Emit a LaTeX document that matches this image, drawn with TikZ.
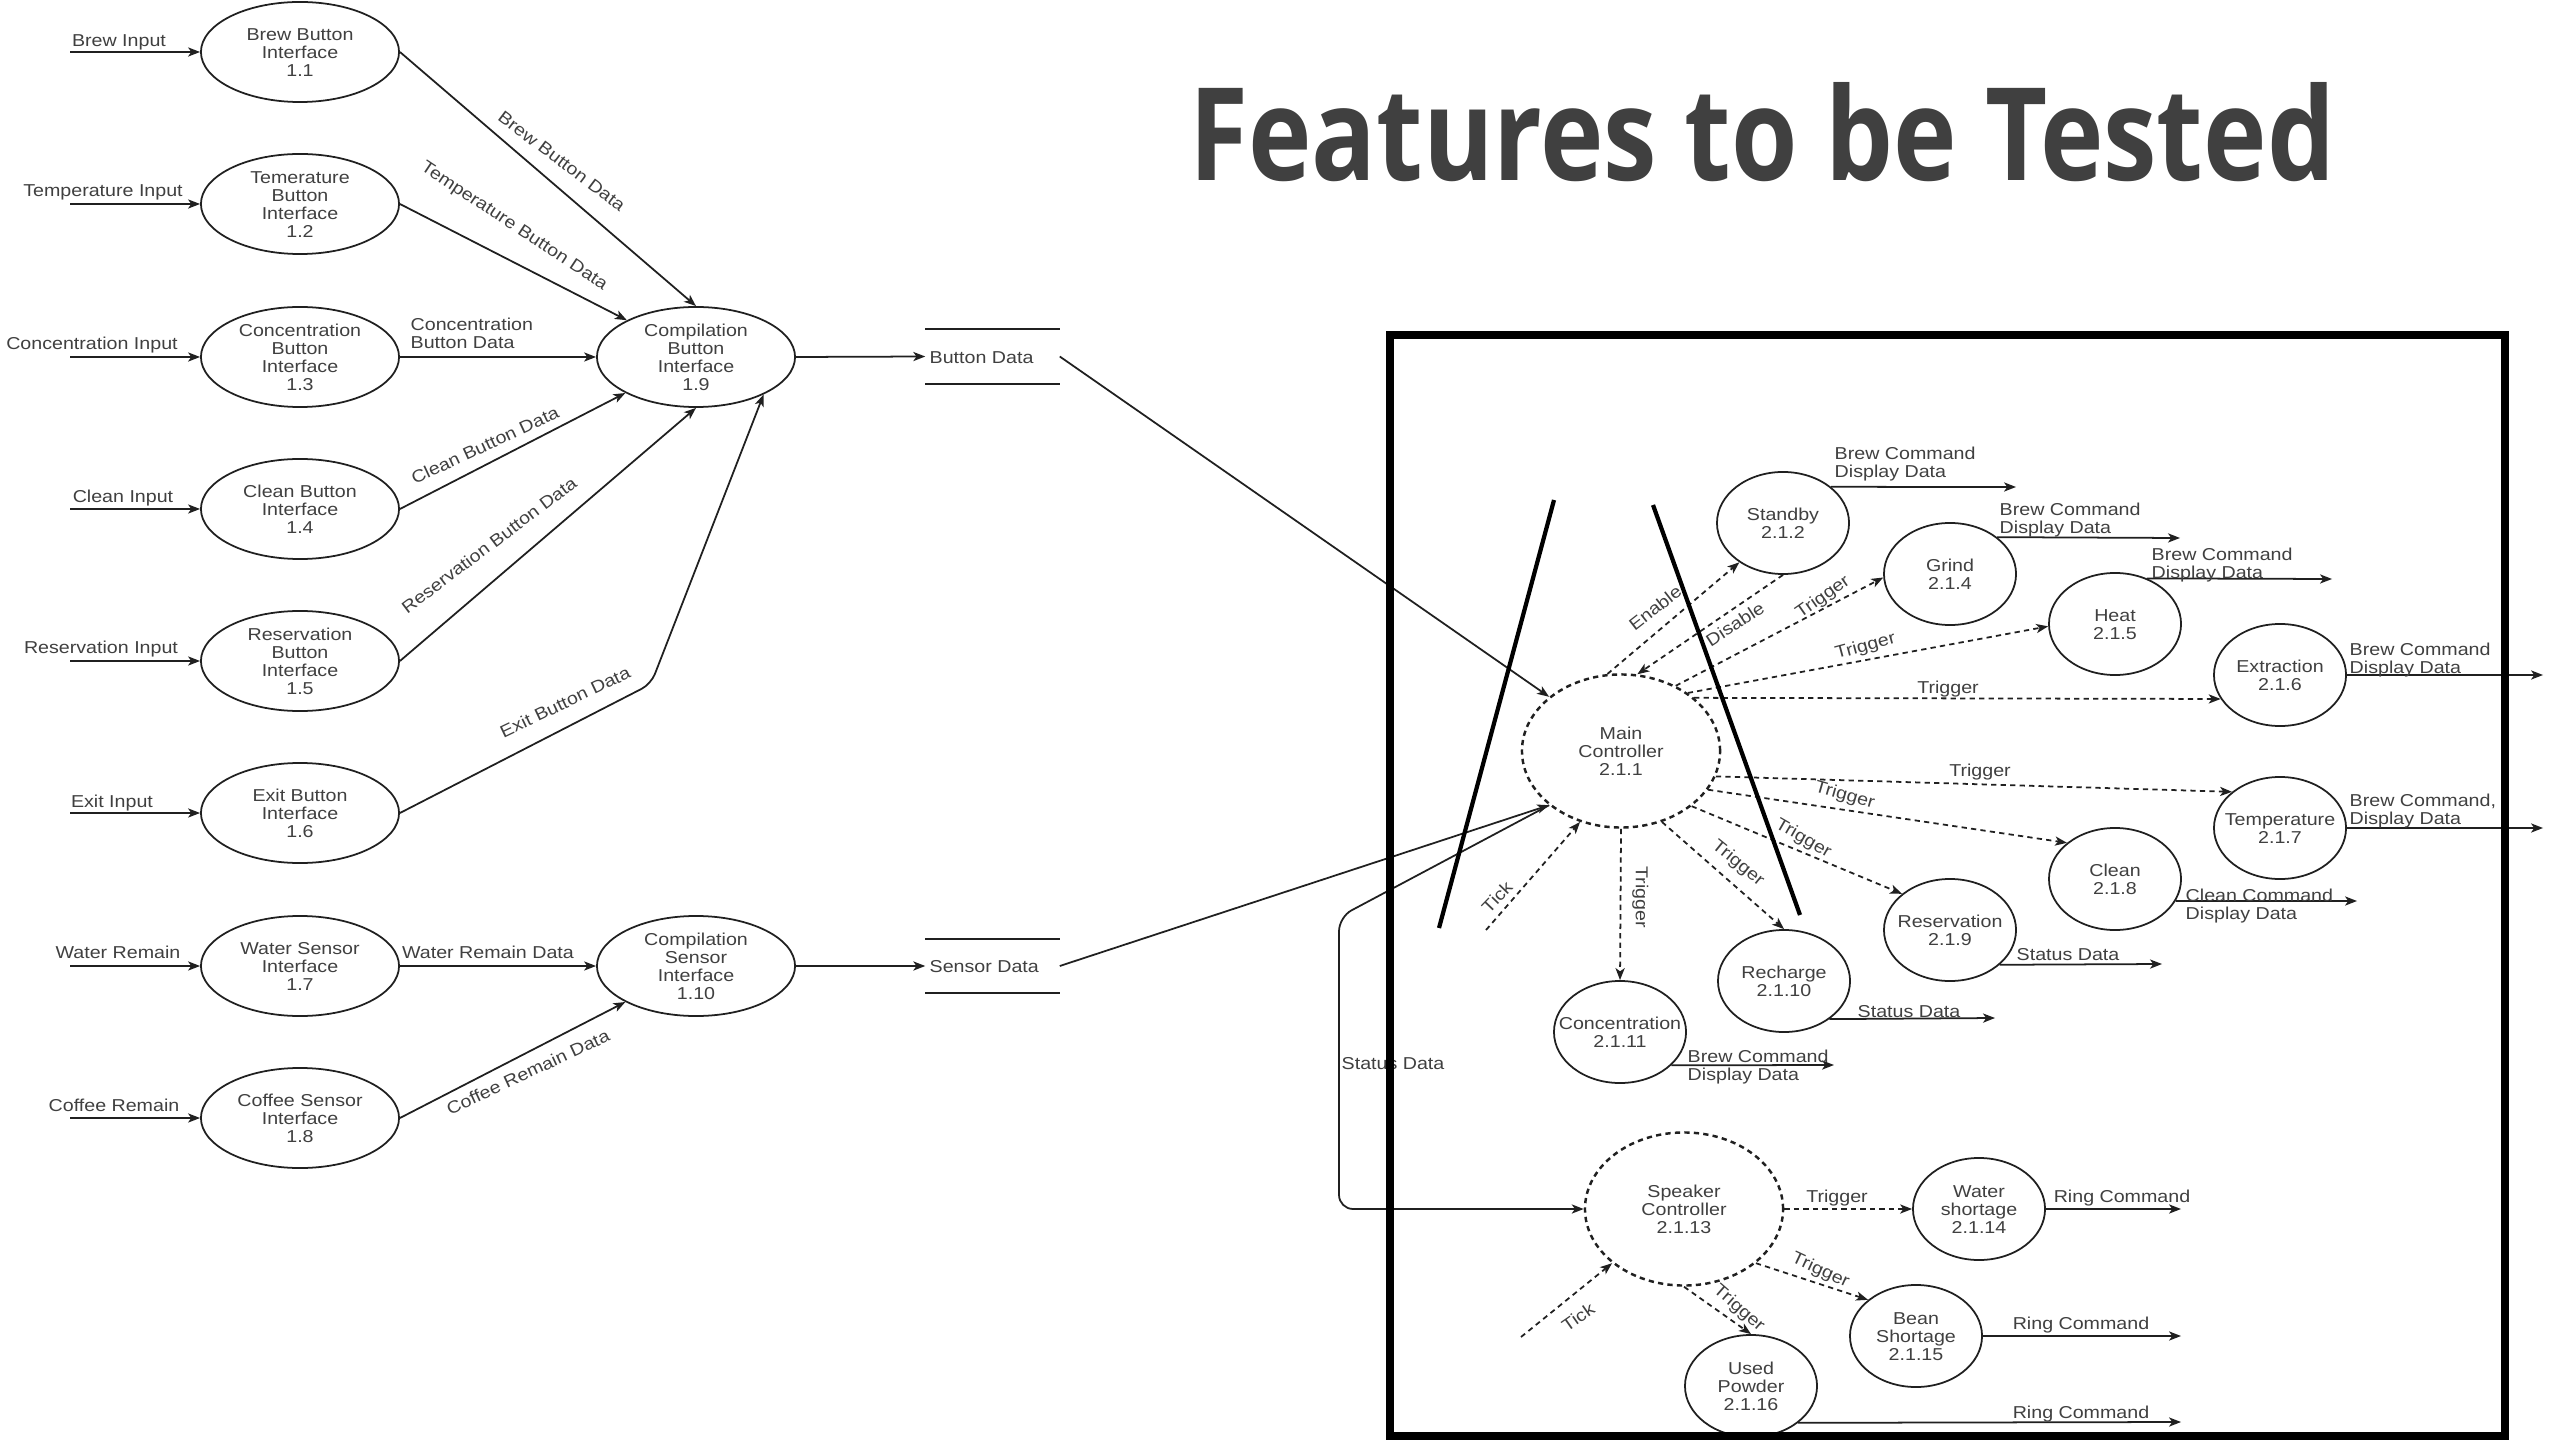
\documentclass[tikz,border=0pt]{standalone}
\usepackage{fontspec}
\usepackage{graphicx}
\setmainfont{Liberation Sans}
\newfontfamily\titlefont{Open Sans}
\usetikzlibrary{shapes.geometric,arrows.meta}
\definecolor{txt}{HTML}{404040}
\definecolor{ln}{HTML}{202020}
\newcommand\tx[1]{\scalebox{1.14}[1]{\raisebox{-0.75pt}[\height][\depth]{\begin{tabular}{@{}c@{}}#1\end{tabular}}}}
\newcommand\txl[1]{\scalebox{1.14}[1]{\raisebox{-0.75pt}[\height][\depth]{\begin{tabular}{@{}l@{}}#1\end{tabular}}}}
\tikzset{
  lbl/.style={inner sep=0pt, text=txt, font=\fontsize{4.9}{5.1}\selectfont},
  ell/.style={draw=ln, line width=0.5pt, ellipse, inner sep=0pt, minimum width=1.98cm, minimum height=1cm},
  sm/.style={draw=ln, line width=0.5pt, ellipse, inner sep=0pt, minimum width=1.32cm, minimum height=1.02cm},
  ctl/.style={draw=ln, line width=0.7pt, dash pattern=on 1.5pt off 1.2pt, ellipse, inner sep=0pt, minimum width=1.98cm, minimum height=1.53cm},
  flow/.style={draw=ln, line width=0.5pt, -{Stealth[length=3.4pt,width=2.6pt,inset=0.9pt]}},
  dflow/.style={flow, dash pattern=on 1.5pt off 1.2pt},
  store/.style={inner sep=0pt, minimum width=1.33cm, minimum height=0.53cm},
  wall/.style={draw=black, line width=1.2pt},
  frame/.style={draw=black, line width=2.3pt},
  sline/.style={draw=ln, line width=0.6pt}
}
\begin{document}
\begin{tikzpicture}[x=0.01cm, y=-0.01cm]
\useasboundingbox (0,0) rectangle (2552,1440);
\fill[white] (0,0) rectangle (2552,1440);

% title
\node[anchor=base, inner sep=0pt, text=txt] (title) at (1762,181)
  {\resizebox{11.45cm}{0.98cm}{\titlefont\bfseries Features to be Tested}};

% left processes
\node[ell, label={[lbl]center:{\tx{Brew Button\\Interface\\1.1}}}] (n11) at (300,52) {};
\node[ell, label={[lbl]center:{\tx{Temerature\\Button\\Interface\\1.2}}}] (n12) at (300,204) {};
\node[ell, label={[lbl]center:{\tx{Concentration\\Button\\Interface\\1.3}}}] (n13) at (300,357) {};
\node[ell, label={[lbl]center:{\tx{Clean Button\\Interface\\1.4}}}] (n14) at (300,509) {};
\node[ell, label={[lbl]center:{\tx{Reservation\\Button\\Interface\\1.5}}}] (n15) at (300,661) {};
\node[ell, label={[lbl]center:{\tx{Exit Button\\Interface\\1.6}}}] (n16) at (300,813) {};
\node[ell, label={[lbl]center:{\tx{Water Sensor\\Interface\\1.7}}}] (n17) at (300,966) {};
\node[ell, label={[lbl]center:{\tx{Coffee Sensor\\Interface\\1.8}}}] (n18) at (300,1118) {};
\node[ell, label={[lbl]center:{\tx{Compilation\\Button\\Interface\\1.9}}}] (n19) at (696,357) {};
\node[ell, label={[lbl]center:{\tx{Compilation\\Sensor\\Interface\\1.10}}}] (n110) at (696,966) {};

% inputs
\coordinate (i1) at (70,52);
\coordinate (i2) at (70,204);
\coordinate (i3) at (70,357);
\coordinate (i4) at (70,509);
\coordinate (i5) at (70,661);
\coordinate (i6) at (70,813);
\coordinate (i7) at (70,966);
\coordinate (i8) at (70,1118);
\draw[flow] (i1) -- (n11.west);
\draw[flow] (i2) -- (n12.west);
\draw[flow] (i3) -- (n13.west);
\draw[flow] (i4) -- (n14.west);
\draw[flow] (i5) -- (n15.west);
\draw[flow] (i6) -- (n16.west);
\draw[flow] (i7) -- (n17.west);
\draw[flow] (i8) -- (n18.west);
\node[lbl] (li1) at (119,40) {\tx{Brew Input}};
\node[lbl] (li2) at (103,190) {\tx{Temperature Input}};
\node[lbl] (li3) at (92,343) {\tx{Concentration Input}};
\node[lbl] (li4) at (123,496) {\tx{Clean Input}};
\node[lbl] (li5) at (101,647) {\tx{Reservation Input}};
\node[lbl] (li6) at (112,801) {\tx{Exit Input}};
\node[lbl] (li7) at (118,952) {\tx{Water Remain}};
\node[lbl] (li8) at (114,1105) {\tx{Coffee Remain}};

% flows into compilation
\draw[flow] (n11.east) -- (n19.north);
\draw[flow] (n12.east) -- (n19.152);
\draw[flow] (n13.east) -- (n19.west);
\draw[flow] (n14.east) -- (n19.207);
\draw[flow] (n15.east) -- (n19.south);
\draw[flow, rounded corners=3pt] (n16.east) -- (651,684) -- (n19.-29);
\draw[flow] (n17.east) -- (n110.west);
\draw[flow] (n18.east) -- (n110.207);
\node[lbl, rotate=-37] (lf1) at (562,161) {\tx{Brew Button Data}};
\node[lbl, rotate=-33.5] (lf2) at (515,225) {\tx{Temperature Button Data}};
\node[lbl, anchor=west] (lf3) at (410,333) {\txl{Concentration\\Button Data}};
\node[lbl, rotate=25] (lf4) at (485,445) {\tx{Clean Button Data}};
\node[lbl, rotate=37] (lf5) at (489,545) {\tx{Reservation Button Data}};
\node[lbl, rotate=25.5] (lf6) at (565,702) {\tx{Exit Button Data}};
\node[lbl] (lf7) at (488,952) {\tx{Water Remain Data}};
\node[lbl, rotate=25] (lf8) at (528,1072) {\tx{Coffee Remain Data}};

% data stores
\node[store] (bd) at (992.5,356.5) {};
\node[store] (sd) at (992.5,966) {};
\draw[sline] (bd.north west) -- (bd.north east) (bd.south west) -- (bd.south east);
\draw[sline] (sd.north west) -- (sd.north east) (sd.south west) -- (sd.south east);
\node[lbl, anchor=west] (bdt) at (929,357) {\tx{Button Data}};
\node[lbl, anchor=west] (sdt) at (929,966) {\tx{Sensor Data}};
\draw[flow] (n19.east) -- (bd.west);
\draw[flow] (n110.east) -- (sd.west);

% right processes
\node[ctl, label={[lbl]center:{\tx{Main\\Controller\\2.1.1}}}] (main) at (1621,751) {};
\node[sm, label={[lbl]center:{\tx{Standby\\2.1.2}}}] (sb) at (1783,523) {};
\node[sm, label={[lbl]center:{\tx{Grind\\2.1.4}}}] (gr) at (1950,574) {};
\node[sm, label={[lbl]center:{\tx{Heat\\2.1.5}}}] (ht) at (2115,624) {};
\node[sm, label={[lbl]center:{\tx{Extraction\\2.1.6}}}] (ex) at (2280,675) {};
\node[sm, label={[lbl]center:{\tx{Temperature\\2.1.7}}}] (tp) at (2280,828) {};
\node[sm, label={[lbl]center:{\tx{Clean\\2.1.8}}}] (cl) at (2115,879) {};
\node[sm, label={[lbl]center:{\tx{Reservation\\2.1.9}}}] (rs) at (1950,930) {};
\node[sm, label={[lbl]center:{\tx{Recharge\\2.1.10}}}] (rc) at (1784,981) {};
\node[sm, label={[lbl]center:{\tx{Concentration\\2.1.11}}}] (cc) at (1620,1032) {};
\node[ctl, label={[lbl]center:{\tx{Speaker\\Controller\\2.1.13}}}] (spk) at (1684,1209) {};
\node[sm, label={[lbl]center:{\tx{Water\\shortage\\2.1.14}}}] (ws) at (1979,1209) {};
\node[sm, label={[lbl]center:{\tx{Bean\\Shortage\\2.1.15}}}] (bs) at (1916,1336) {};
\node[sm, label={[lbl]center:{\tx{Used\\Powder\\2.1.16}}}] (up) at (1751,1386) {};

% stores to main controller
\draw[flow] (bd.east) -- (main.143);
\draw[flow] (sd.east) -- (main.217);
\draw[flow, rounded corners=4pt] (main.217) -- (1339,917) -- (1339,1209) -- (spk.west);
\node[lbl] (lst) at (1393,1063) {\tx{Status Data}};

% main controller triggers
\draw[dflow] (main.100) -- (sb.222);
\draw[dflow] (sb.south) -- (main.78);
\draw[dflow] (main.50) -- (gr.183);
\draw[dflow] (main.41) -- (ht.182);
\draw[dflow] (main.36) -- (ex.202);
\draw[dflow] (main.-15) -- (tp.143);
\draw[dflow] (main.-24) -- (cl.143);
\draw[dflow] (main.-38) -- (rs.143);
\draw[dflow] (main.-60) -- (rc.north);
\draw[dflow] (main.south) -- (cc.north);
\coordinate (tk1) at (1486,930);
\draw[dflow] (tk1) -- (main.240);
\node[lbl, rotate=38] (le) at (1655,608) {\tx{Enable}};
\node[lbl, rotate=33] (ld) at (1735,624) {\tx{Disable}};
\node[lbl, rotate=35] (lt1) at (1822,596) {\tx{Trigger}};
\node[lbl, rotate=15] (lt2) at (1865,645) {\tx{Trigger}};
\node[lbl] (lt3) at (1948,687) {\tx{Trigger}};
\node[lbl] (lt4) at (1980,770) {\tx{Trigger}};
\node[lbl, rotate=-16] (lt5) at (1845,794) {\tx{Trigger}};
\node[lbl, rotate=-30] (lt6) at (1804,837) {\tx{Trigger}};
\node[lbl, rotate=-39] (lt7) at (1739,862) {\tx{Trigger}};
\node[lbl, rotate=-90] (lt8) at (1642,897) {\tx{Trigger}};
\node[lbl, rotate=46] (ltk1) at (1497,897) {\tx{Tick}};

% outputs of sub processes
\coordinate (o1) at (2016,487);
\coordinate (o2) at (2180,538);
\coordinate (o3) at (2332,579);
\coordinate (o4) at (2543,675);
\coordinate (o5) at (2543,828);
\coordinate (o6) at (2357,901);
\coordinate (o7) at (2162,964);
\coordinate (o8) at (1995,1018);
\coordinate (o9) at (1834,1065);
\draw[flow] (sb.37) -- (o1);
\draw[flow] (gr.38) -- (o2);
\draw[flow] (ht.55) -- (o3);
\draw[flow] (ex.east) -- (o4);
\draw[flow] (tp.east) -- (o5);
\draw[flow] (cl.-20) -- (o6);
\draw[flow] (rs.-35) -- (o7);
\draw[flow] (rc.-40) -- (o8);
\draw[flow] (cc.-33) -- (o9);
\node[lbl, anchor=west] (lo1) at (1834,462) {\txl{Brew Command\\Display Data}};
\node[lbl, anchor=west] (lo2) at (1999,518) {\txl{Brew Command\\Display Data}};
\node[lbl, anchor=west] (lo3) at (2151,563) {\txl{Brew Command\\Display Data}};
\node[lbl, anchor=west] (lo4) at (2349,658) {\txl{Brew Command\\Display Data}};
\node[lbl, anchor=west] (lo5) at (2349,809) {\txl{Brew Command,\\Display Data}};
\node[lbl, anchor=west] (lo6) at (2185,904) {\txl{Clean Command\\Display Data}};
\node[lbl, anchor=west] (lo7) at (2016,954) {\txl{Status Data}};
\node[lbl, anchor=west] (lo8) at (1857,1011) {\txl{Status Data}};
\node[lbl, anchor=west] (lo9) at (1687,1065) {\txl{Brew Command\\Display Data}};

% speaker controller
\draw[dflow] (spk.east) -- (ws.west);
\draw[dflow] (spk.-37) -- (bs.143);
\draw[dflow] (spk.south) -- (up.north);
\coordinate (tk2) at (1521,1337);
\draw[dflow] (tk2) -- (spk.217);
\node[lbl] (ls1) at (1837,1196) {\tx{Trigger}};
\node[lbl, rotate=-25] (ls2) at (1821,1269) {\tx{Trigger}};
\node[lbl, rotate=-41] (ls3) at (1740,1307) {\tx{Trigger}};
\node[lbl, rotate=35] (ltk2) at (1578,1317) {\tx{Tick}};
\coordinate (r1) at (2181,1209);
\coordinate (r2) at (2181,1336);
\coordinate (r3) at (2181,1422);
\draw[flow] (ws.east) -- (r1);
\draw[flow] (bs.east) -- (r2);
\draw[flow] (up.-38) -- (r3);
\node[lbl] (lr1) at (2122,1196) {\tx{Ring Command}};
\node[lbl] (lr2) at (2081,1323) {\tx{Ring Command}};
\node[lbl] (lr3) at (2081,1412) {\tx{Ring Command}};

% walls and frame
\draw[wall] (1554,500) -- (1439,928);
\draw[wall] (1653,505) -- (1800,915);
\draw[frame] (1390,335) rectangle (2505,1436);
\end{tikzpicture}
\end{document}
